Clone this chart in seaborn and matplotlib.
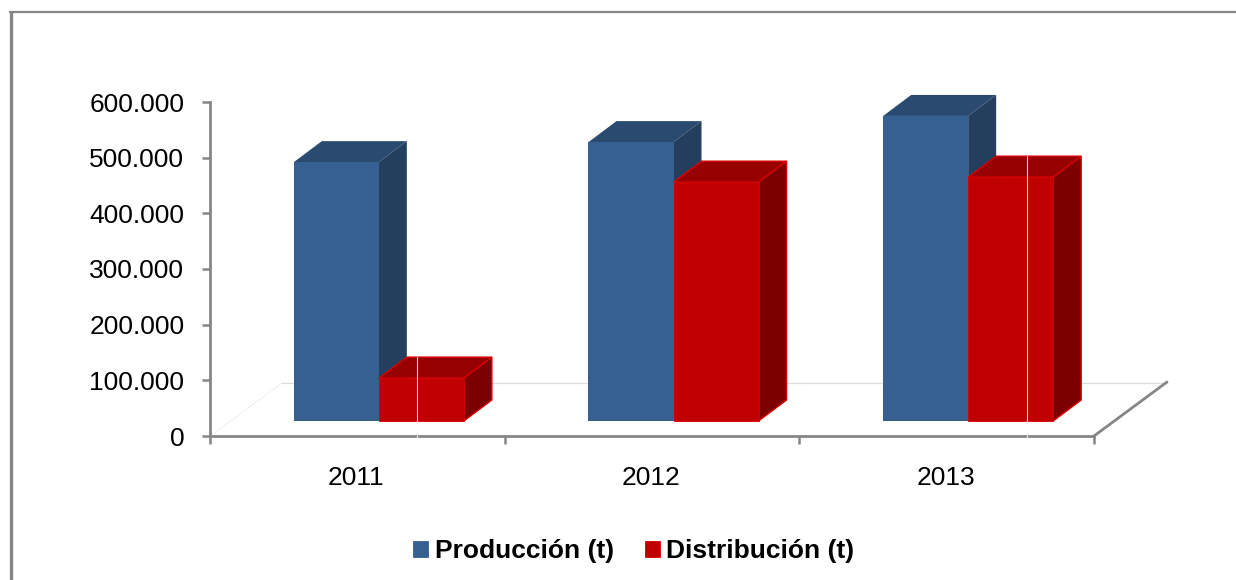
"""Produccion vs distribucion, fake-3D column chart."""

from __future__ import annotations

import matplotlib

matplotlib.use("Agg")

import matplotlib.pyplot as plt
import pandas as pd
import seaborn as sns
from matplotlib.lines import Line2D
from matplotlib.patches import Polygon, Rectangle

YEARS = ["2011", "2012", "2013"]
PRODUCCION = [465000, 501000, 548000]
DISTRIBUCION = [77000, 429000, 438000]
SERIES_NAMES = ["Producción (t)", "Distribución (t)"]
Y_TICKS = [0, 100000, 200000, 300000, 400000, 500000, 600000]
Y_TICK_LABELS = ["0", "100.000", "200.000", "300.000", "400.000", "500.000", "600.000"]

FIG_W, FIG_H = 1236, 580
AX_LEFT, AX_RIGHT, AX_BOTTOM, AX_TOP = 210, 1094, 436, 102

GREY = "#868686"
STYLES = {
    SERIES_NAMES[0]: {"front": "#376092", "top": "#2A4A70", "side": "#243F5E", "edge": "#376092"},
    SERIES_NAMES[1]: {"front": "#C00000", "top": "#960000", "side": "#7D0000", "edge": "#D90000"},
}


def main() -> None:
    sns.set_theme(style="white")
    plt.rcParams["font.family"] = ["Liberation Sans", "DejaVu Sans"]

    df = pd.DataFrame(
        {
            "year": YEARS * 2,
            "value": PRODUCCION + DISTRIBUCION,
            "serie": [SERIES_NAMES[0]] * 3 + [SERIES_NAMES[1]] * 3,
        }
    )

    fig = plt.figure(figsize=(FIG_W / 100, FIG_H / 100), dpi=100)
    ax = fig.add_axes(
        [
            AX_LEFT / FIG_W,
            1 - AX_BOTTOM / FIG_H,
            (AX_RIGHT - AX_LEFT) / FIG_W,
            (AX_BOTTOM - AX_TOP) / FIG_H,
        ]
    )

    # px -> data scale factors
    px_x = 3 / (AX_RIGHT - AX_LEFT)
    px_y = 600000 / (AX_BOTTOM - AX_TOP)
    shift = 21.5 * px_x  # columns sit right of the category centre in the 3D view
    floor = 15 * px_y
    depth_x, depth_y = 28 * px_x, 21 * px_y

    sns.barplot(
        data=df,
        x="year",
        y="value",
        hue="serie",
        order=YEARS,
        hue_order=SERIES_NAMES,
        palette=[STYLES[s]["front"] for s in SERIES_NAMES],
        width=0.577,
        bottom=floor,
        saturation=1,
        legend=False,
        ax=ax,
    )
    ax.set_xlim(-0.5 - shift, 2.5 - shift)
    ax.set_ylim(0, 600000)

    # side and top faces come from the bars seaborn drew
    bars = list(ax.patches)
    for i, bar in enumerate(bars):
        style = STYLES[SERIES_NAMES[i // 3]]
        z = 2 + i // 3
        x0, x1 = bar.get_x(), bar.get_x() + bar.get_width()
        y0, y1 = bar.get_y(), bar.get_y() + bar.get_height()
        lw = 1.0 if i // 3 else 0
        bar.set_edgecolor(style["edge"])
        bar.set_linewidth(0.6 if i // 3 else 0)
        bar.set_zorder(z + 0.2)
        top = [(x0, y1), (x1, y1), (x1 + depth_x, y1 + depth_y), (x0 + depth_x, y1 + depth_y)]
        side = [(x1, y0), (x1 + depth_x, y0 + depth_y), (x1 + depth_x, y1 + depth_y), (x1, y1)]
        ax.add_patch(Polygon(top, facecolor=style["top"], edgecolor=style["edge"], lw=lw, zorder=z, clip_on=False))
        ax.add_patch(Polygon(side, facecolor=style["side"], edgecolor=style["edge"], lw=lw, zorder=z, clip_on=False))

    # floor of the 3D box
    x_lo, x_hi = ax.get_xlim()
    back_y = 53 * px_y
    ax.plot([x_lo + 72 * px_x, x_hi + 73 * px_x], [back_y, back_y], color="#DDDDDD", lw=0.9, zorder=1, clip_on=False)
    ax.plot([x_lo, x_lo + 72 * px_x], [0, back_y], color="#DDDDDD", lw=0.8, ls=":", zorder=1)
    ax.plot([x_hi, x_hi + 73 * px_x], [0, 54 * px_y], color=GREY, lw=2.0, zorder=1, clip_on=False)

    sns.despine(ax=ax)
    for name in ("left", "bottom"):
        ax.spines[name].set_color(GREY)
        ax.spines[name].set_linewidth(2.0)

    # thin white seams that cross the 2011 and 2013 red columns
    seams = [
        (x_lo + 206.5 * px_x, DISTRIBUCION[0] + floor + depth_y),
        (x_lo + 816.5 * px_x, DISTRIBUCION[2] + floor + depth_y),
    ]
    for seam_x, seam_top in seams:
        ax.plot([seam_x, seam_x], [-2 * px_y, seam_top], color="white", lw=0.8, alpha=0.85, zorder=6, clip_on=False)

    ax.set_yticks(Y_TICKS, Y_TICK_LABELS)
    ax.set_xticks([x_lo, x_lo + 1, x_lo + 2, x_hi], [])
    ax.set_xticks([x_lo + 0.5 + i - px_x for i in range(3)], YEARS, minor=True)
    ax.tick_params(axis="y", length=6, width=1.8, color=GREY, pad=12.5, labelsize=19, left=True, labelcolor="black")
    ax.tick_params(axis="x", which="major", length=6, width=1.8, color=GREY, bottom=True)
    ax.tick_params(axis="x", which="minor", length=0, pad=21.5, labelsize=19, labelcolor="black")
    ax.set_xlabel("")
    ax.set_ylabel("")

    handles = [
        Rectangle((0, 0), 1, 1, facecolor=STYLES[s]["front"], edgecolor=STYLES[s]["edge"], lw=0.6)
        for s in SERIES_NAMES
    ]
    fig.legend(
        handles,
        SERIES_NAMES,
        loc="center",
        bbox_to_anchor=(634 / FIG_W, 1 - 551 / FIG_H),
        ncol=2,
        frameon=False,
        handlelength=0.55,
        handleheight=0.55,
        handletextpad=0.25,
        columnspacing=1.2,
        prop={"size": 19, "weight": "bold"},
        labelcolor="black",
    )

    # chart area frame, cut off at the right and bottom of the image
    fig.add_artist(Line2D([10.5 / FIG_W, 10.5 / FIG_W], [0, 1 - 12 / FIG_H], color=GREY, lw=2.4))
    fig.add_artist(Line2D([10 / FIG_W, 1], [1 - 12 / FIG_H, 1 - 12 / FIG_H], color=GREY, lw=1.6))

    fig.savefig("out.png", dpi=100)
    plt.close(fig)


if __name__ == "__main__":
    main()
